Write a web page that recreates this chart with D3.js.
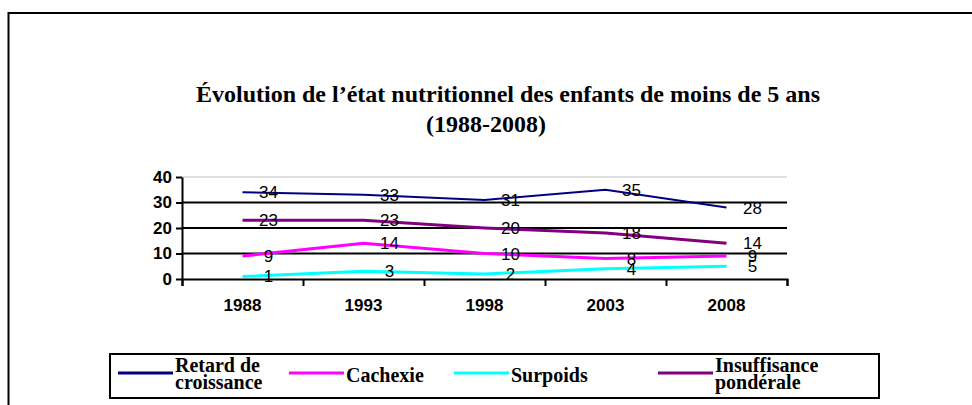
<!DOCTYPE html>
<html>
<head>
<meta charset="utf-8">
<script src="https://cdn.jsdelivr.net/npm/d3@7"></script>
<style>
  body { margin: 0; background: #fff; }
</style>
</head>
<body>
<div id="chart"></div>
<script>
// data
const years = ["1988", "1993", "1998", "2003", "2008"];
const retard = [34, 33, 31, 35, 28];
const cachexie = [9, 14, 10, 8, 9];
const surpoids = [1, 3, 2, 4, 5];
const insuffisance = [23, 23, 20, 18, 14];
const seriesNames = ["Retard de croissance", "Cachexie", "Surpoids", "Insuffisance pondérale"];
const legendLines = [["Retard de", "croissance"], ["Cachexie"], ["Surpoids"], ["Insuffisance", "pondérale"]];
const seriesColors = ["#000080", "#ff00ff", "#00ffff", "#800080"];
const yTicks = [0, 10, 20, 30, 40];

const series = [retard, cachexie, surpoids, insuffisance].map((v, i) => ({
  name: seriesNames[i], color: seriesColors[i], values: v, legend: legendLines[i]
}));

// layout
const W = 972, H = 405;
const plot = {left: 182, right: 787, top: 177, bottom: 279};

const svg = d3.select("#chart").append("svg")
  .attr("width", W)
  .attr("height", H);

// outer frame (cut on the right and bottom)
svg.append("rect")
  .attr("x", 8.5).attr("y", 13)
  .attr("width", 1000).attr("height", 500)
  .attr("fill", "none").attr("stroke", "#000").attr("stroke-width", 2);

// title
const title = svg.append("text")
  .attr("text-anchor", "middle")
  .attr("font-family", "'Liberation Serif', 'Times New Roman', serif")
  .attr("font-weight", "bold")
  .attr("font-size", 24);
title.append("tspan").attr("x", 508).attr("y", 102)
  .text("Évolution de l’état nutritionnel des enfants de moins de 5 ans");
title.append("tspan").attr("x", 486).attr("y", 132)
  .text("(1988-2008)");

// scales
const x = d3.scaleBand().domain(years).range([plot.left, plot.right]);
const xEdge = d3.scaleLinear().domain([0, years.length]).range([plot.left, plot.right]);
const y = d3.scaleLinear().domain([0, 40]).range([plot.bottom, plot.top]);

// plot area top border
svg.append("line")
  .attr("x1", plot.left).attr("x2", plot.right)
  .attr("y1", y(40)).attr("y2", y(40))
  .attr("stroke", "#c0c0c0").attr("stroke-width", 1);

// gridlines
svg.append("g").selectAll("line")
  .data(yTicks.filter(d => d > 0 && d < 40))
  .join("line")
    .attr("x1", plot.left).attr("x2", plot.right)
    .attr("y1", d => y(d)).attr("y2", d => y(d))
    .attr("stroke", "#000").attr("stroke-width", 2);

// y axis
const yAxis = svg.append("g")
  .attr("transform", `translate(${plot.left},0)`)
  .call(d3.axisLeft(y).tickValues(yTicks).tickSize(6).tickSizeOuter(0).tickPadding(4));
yAxis.select(".domain").attr("stroke-width", 2);
yAxis.selectAll(".tick line").attr("stroke-width", 2);
yAxis.selectAll("text")
  .attr("font-family", "'Liberation Sans', Arial, sans-serif")
  .attr("font-weight", "bold")
  .attr("font-size", 17)
  .attr("fill", "#000");

// x axis: ticks on category edges, labels in the middle
const xAxis = svg.append("g")
  .attr("transform", `translate(0,${plot.bottom})`)
  .call(d3.axisBottom(xEdge).tickValues(d3.range(years.length + 1)).tickSize(7).tickFormat(""));
xAxis.select(".domain").attr("stroke-width", 2);
xAxis.selectAll(".tick line").attr("stroke-width", 2);

svg.append("g").selectAll("text")
  .data(years)
  .join("text")
    .attr("x", d => x(d) + x.bandwidth() / 2)
    .attr("y", 311)
    .attr("text-anchor", "middle")
    .attr("font-family", "'Liberation Sans', Arial, sans-serif")
    .attr("font-weight", "bold")
    .attr("font-size", 17)
    .text(d => d);

// lines
const line = d3.line()
  .x((d, i) => x(years[i]) + x.bandwidth() / 2)
  .y(d => y(d));

svg.append("g").selectAll("path")
  .data(series)
  .join("path")
    .attr("d", d => line(d.values))
    .attr("fill", "none")
    .attr("stroke", d => d.color)
    .attr("stroke-width", (d, i) => i === 0 ? 2 : 3);

// data labels
series.forEach(s => {
  svg.append("g").selectAll("text")
    .data(s.values)
    .join("text")
      .attr("x", (d, i) => x(years[i]) + x.bandwidth() / 2 + 26)
      .attr("y", d => y(d) + 6)
      .attr("text-anchor", "middle")
      .attr("font-family", "'Liberation Sans', Arial, sans-serif")
      .attr("font-size", 17)
      .attr("fill", "#000")
      .text(d => d);
});

// legend
const legend = svg.append("g");
legend.append("rect")
  .attr("x", 110).attr("y", 354)
  .attr("width", 769).attr("height", 44)
  .attr("fill", "#fff").attr("stroke", "#000").attr("stroke-width", 2);

const legendX = [118, 289, 454, 658];
series.forEach((s, i) => {
  const g = legend.append("g").attr("transform", `translate(${legendX[i]},373)`);
  g.append("line")
    .attr("x1", 0).attr("x2", 55)
    .attr("stroke", s.color).attr("stroke-width", 3);
  const t = g.append("text")
    .attr("font-family", "'Liberation Serif', 'Times New Roman', serif")
    .attr("font-weight", "bold")
    .attr("font-size", 20);
  if (s.legend.length === 1) {
    t.append("tspan").attr("x", 57).attr("y", 9).text(s.legend[0]);
  } else {
    t.append("tspan").attr("x", 57).attr("y", -1).text(s.legend[0]);
    t.append("tspan").attr("x", 57).attr("y", 16).text(s.legend[1]);
  }
});
</script>
</body>
</html>
